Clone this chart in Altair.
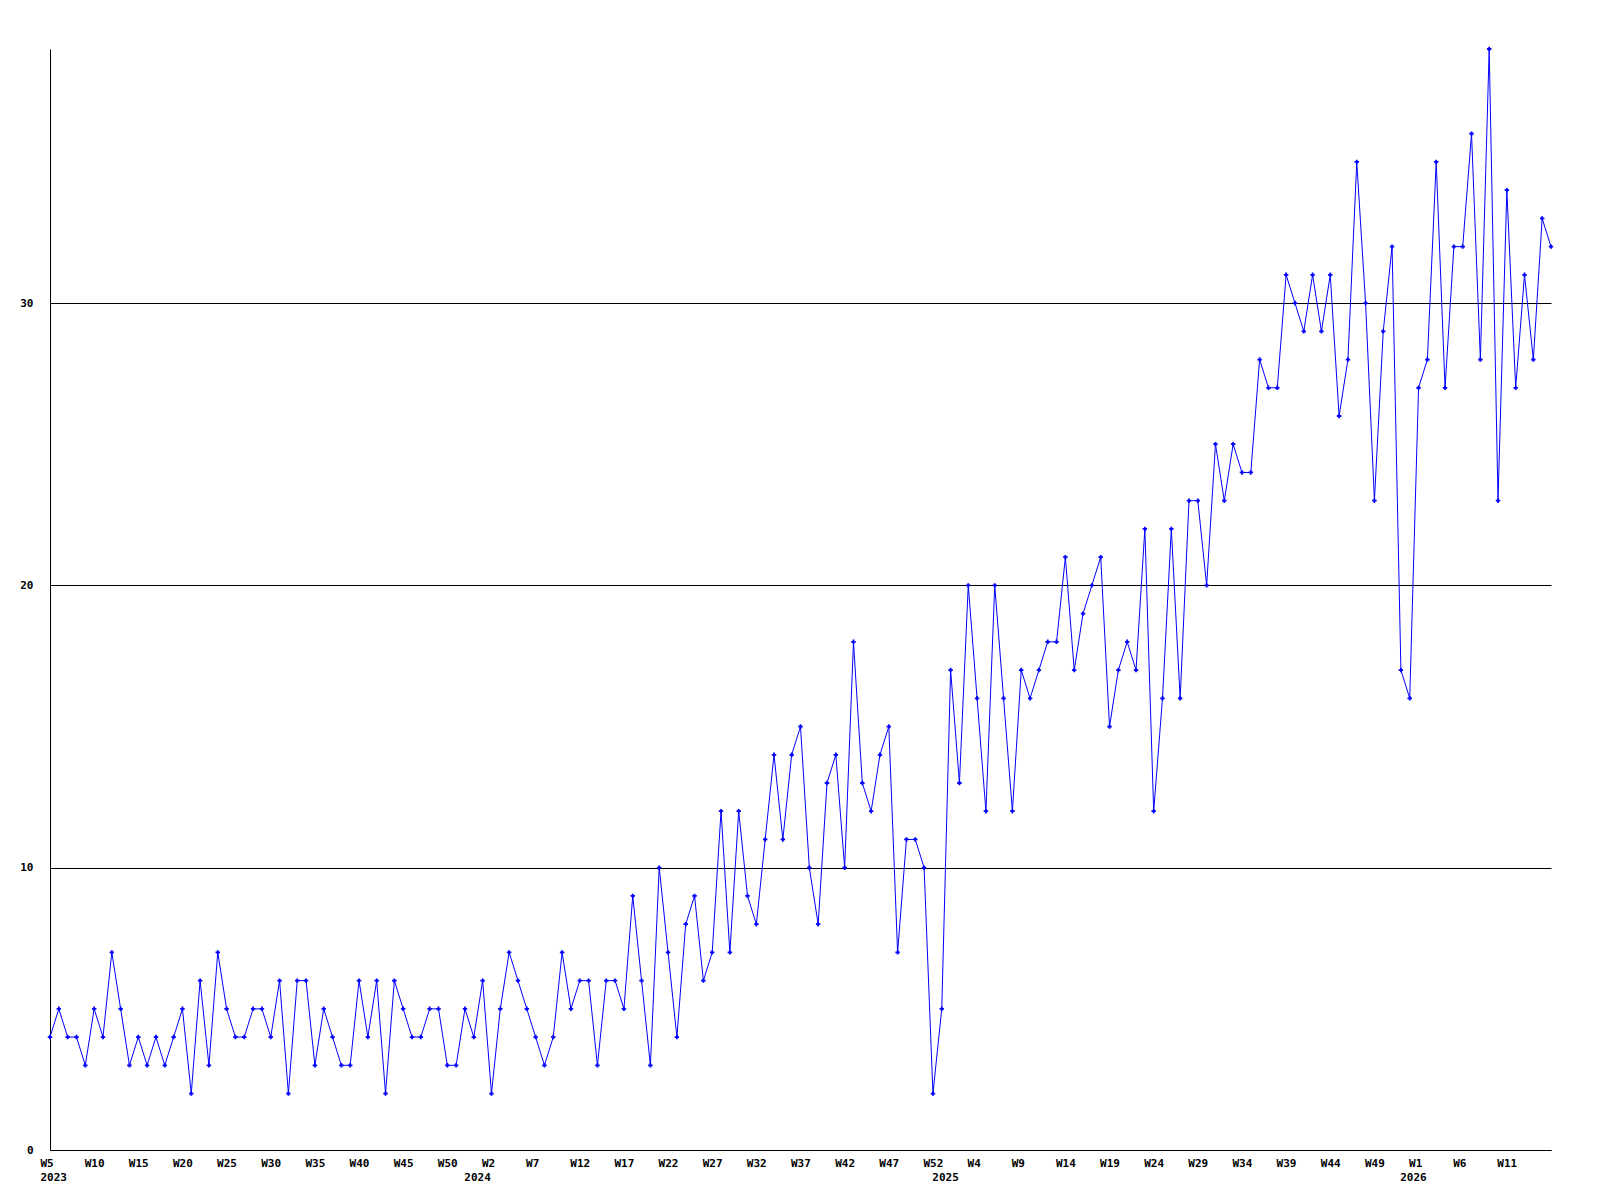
import json
import altair as alt
import pandas as pd

# weekly counts, 2023 W5 .. 2026 W16 (one value per week)
values = [
    4, 5, 4, 4, 3, 5, 4, 7, 5, 3, 4, 3, 4, 3, 4, 5, 2, 6, 3, 7, 5, 4, 4, 5, 5, 4, 6, 2, 6, 6, 3, 5, 4,
    3, 3, 6, 4, 6, 2, 6, 5, 4, 4, 5, 5, 3, 3, 5, 4, 6, 2, 5, 7, 6, 5, 4, 3, 4, 7, 5, 6, 6, 3, 6, 6,
    5, 9, 6, 3, 10, 7, 4, 8, 9, 6, 7, 12, 7, 12, 9, 8, 11, 14, 11, 14, 15, 10, 8, 13, 14, 10, 18, 13, 12, 14, 15, 7,
    11, 11, 10, 2, 5, 17, 13, 20, 16, 12, 20, 16, 12, 17, 16, 17, 18, 18, 21, 17, 19, 20, 21, 15, 17, 18, 17, 22, 12, 16, 22, 16,
    23, 23, 20, 25, 23, 25, 24, 24, 28, 27, 27, 31, 30, 29, 31, 29, 31, 26, 28, 35, 30, 23, 29, 32, 17, 16,
    27, 28, 35, 27, 32, 32, 36, 28, 39, 23, 34, 27, 31, 28, 33, 32,
]

tick_positions = list(range(0, 166, 5))
tick_labels = (
    ["W5", "W10", "W15", "W20", "W25", "W30", "W35", "W40", "W45", "W50"]
    + ["W2", "W7", "W12", "W17", "W22", "W27", "W32", "W37", "W42", "W47", "W52"]
    + ["W4", "W9", "W14", "W19", "W24", "W29", "W34", "W39", "W44", "W49"]
    + ["W1", "W6", "W11"]
)
year_positions = [0, 48, 101, 154]
year_labels = ["2023", "2024", "2025", "2026"]
y_ticks = [0, 10, 20, 30]

df = pd.DataFrame({"idx": list(range(len(values))), "count": values})

axis_vals = sorted(set(tick_positions) | set(year_positions))
label_list = []
for v in axis_vals:
    top = tick_labels[tick_positions.index(v)] if v in tick_positions else " "
    if v in year_positions:
        label_list.append([top, year_labels[year_positions.index(v)]])
    else:
        label_list.append(top)
label_expr = f"{json.dumps(label_list)}[indexof({json.dumps(axis_vals)}, datum.value)]"

FONT = "DejaVu Sans Mono"

x = alt.X(
    "idx:Q",
    scale=alt.Scale(domain=[0, len(values) - 1], nice=False, zero=False),
    axis=alt.Axis(
        values=axis_vals,
        labelExpr=label_expr,
        title=None,
        grid=False,
        ticks=False,
        domain=True,
        domainColor="black",
        labelAlign="left",
        labelBaseline="top",
        labelOffset=-10,
        labelPadding=7,
        labelLineHeight=14,
        labelOverlap=False,
        labelFlush=False,
        labelBound=False,
        labelFont=FONT,
        labelFontSize=11,
        labelFontWeight="bold",
        labelColor="black",
    ),
)
y = alt.Y(
    "count:Q",
    scale=alt.Scale(domain=[0, 39], nice=False),
    axis=alt.Axis(
        values=y_ticks,
        title=None,
        grid=True,
        gridColor="black",
        gridOpacity=1,
        gridWidth=1,
        ticks=False,
        domain=True,
        domainColor="black",
        labelPadding=17,
        labelFont=FONT,
        labelFontSize=11,
        labelFontWeight="bold",
        labelColor="black",
    ),
)

base = alt.Chart(df).encode(x=x, y=y)
line = base.mark_line(color="#0000FF", strokeWidth=1)
pts = base.mark_point(shape="cross", filled=True, size=20, color="#0000FF", opacity=1)

chart = (
    alt.layer(line, pts)
    .properties(
        width=1501,
        height=1101,
        autosize=alt.AutoSizeParams(type="none"),
        padding={"left": 42, "top": 41, "right": 10, "bottom": 40},
        background="white",
    )
    .configure_view(strokeWidth=0)
)

chart.save("out.html", embed_options={"renderer": "svg", "actions": False})
